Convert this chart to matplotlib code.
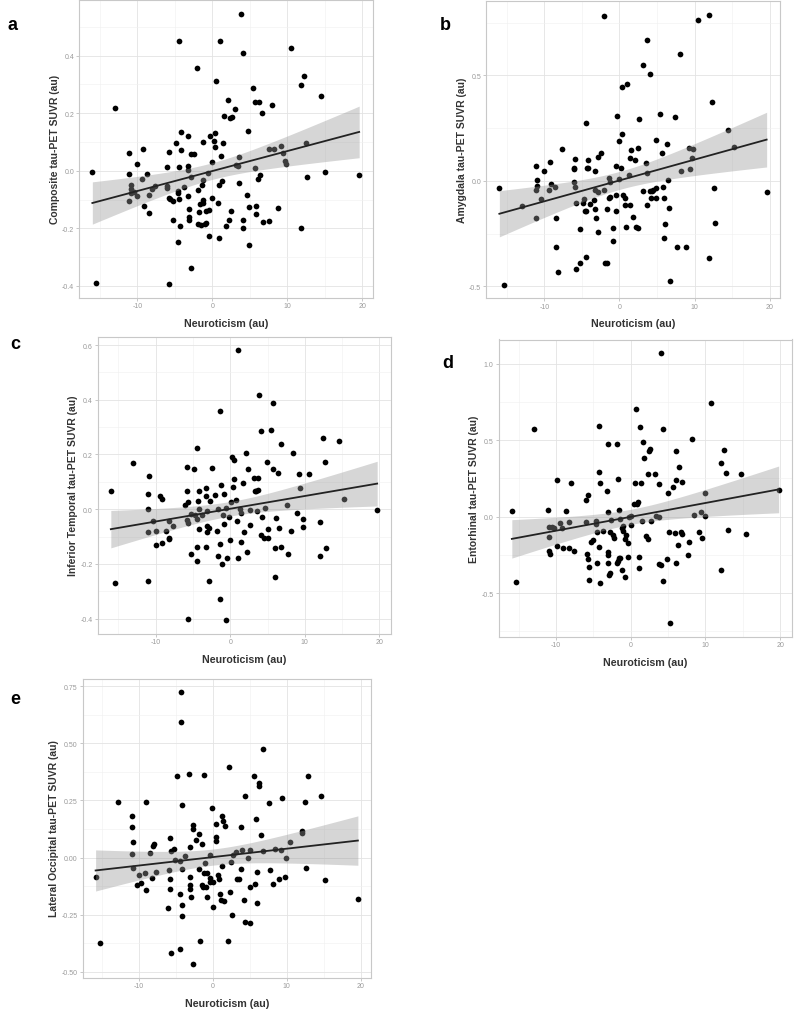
import numpy as np
import matplotlib
matplotlib.use("Agg")
import matplotlib.pyplot as plt
from matplotlib.ticker import MultipleLocator, FixedLocator

plt.rcParams['font.family'] = ['Liberation Sans', 'DejaVu Sans']

# ---- data (Neuroticism vs regional tau-PET SUVR) ----
a_x = [-16.0, -15.5, -13.0, -11.1, -11.1, -10.9, -10.9, -10.8, -11.1, -10.5, -10.0, -10.0, -9.2, -9.4, -9.1,
       -8.7, -8.4, -8.4, -8.1, -7.7, -6.1, -5.8, -6.0, -6.0, -5.8, -5.6, -5.3, -5.3, -5.8, -4.9, -4.5, -4.6,
       -4.6, -4.6, -4.4, -4.2, -4.2, -4.4, -4.3, -3.8, -3.3, -3.3, -3.2, -3.2, -3.1, -3.1, -3.1, -2.9, -2.8,
       -2.8, -2.4, -2.0, -1.9, -1.8, -1.9, -1.6, -1.5, -1.3, -1.4, -1.2, -1.2, -1.3, -1.0, -0.8, -0.8, -0.6,
       -0.5, -0.5, -0.3, 0.0, 0.0, 0.2, 0.3, 0.4, 0.5, 0.8, 0.9, 1.0, 0.9, 1.3, 1.2, 1.4, 1.6, 1.8, 2.1, 2.2,
       2.5, 2.4, 2.6, 3.1, 3.2, 3.4, 3.6, 3.6, 3.8, 4.1, 4.1, 4.1, 4.6, 4.8, 4.9, 4.9, 5.4, 5.7, 5.7, 5.9,
       5.9, 6.2, 6.1, 6.4, 6.6, 6.8, 7.6, 7.6, 8.0, 8.3, 8.8, 9.2, 9.4, 9.7, 9.9, 10.5, 11.9, 11.9, 12.3,
       12.5, 12.7, 14.5, 15.1, 19.6]
a_y = [-0.005, -0.39, 0.218, 0.061, -0.01, -0.05, -0.063, -0.078, -0.104, -0.075, 0.023, -0.088, 0.074,
       -0.027, -0.122, -0.012, -0.085, -0.148, -0.064, -0.052, 0.014, 0.065, -0.052, -0.061, -0.095, -0.099,
       -0.104, -0.171, -0.393, 0.095, 0.013, -0.07, -0.078, -0.246, 0.452, 0.136, 0.072, -0.099, -0.192,
       -0.057, 0.12, 0.016, 0.001, -0.089, -0.134, -0.159, -0.171, -0.339, -0.023, 0.06, 0.058, 0.356,
       -0.065, -0.144, -0.186, -0.117, -0.188, 0.099, -0.048, -0.031, -0.1, -0.112, -0.186, -0.139, -0.182,
       -0.007, -0.135, -0.225, 0.122, -0.096, 0.03, 0.104, 0.132, 0.082, 0.313, -0.112, -0.232, 0.452,
       -0.048, -0.036, 0.051, 0.097, 0.19, -0.193, 0.246, -0.17, -0.14, 0.184, 0.188, 0.214, 0.02, 0.015,
       0.049, -0.044, 0.546, -0.172, -0.197, 0.41, -0.083, 0.137, -0.125, -0.256, 0.288, 0.01, 0.24, -0.121,
       -0.149, 0.238, -0.027, -0.015, 0.202, -0.177, 0.075, -0.174, 0.227, 0.075, -0.13, 0.085, 0.063,
       0.035, 0.022, 0.426, 0.298, -0.197, 0.329, 0.095, -0.02, 0.26, -0.005, -0.016]

b_x = [-16.0, -15.4, -13.0, -11.1, -11.0, -11.0, -11.1, -11.1, -10.4, -10.0, -9.3, -9.4, -9.1, -8.6, -8.4,
       -8.4, -8.2, -7.7, -6.1, -5.9, -6.0, -6.0, -5.9, -5.8, -5.8, -5.3, -5.3, -4.9, -4.7, -4.6, -4.4, -4.5,
       -4.3, -4.2, -4.2, -4.4, -3.9, -3.4, -3.3, -3.2, -3.1, -2.9, -3.2, -2.9, -2.8, -2.4, -2.1, -2.0, -1.9,
       -1.6, -1.7, -1.4, -1.4, -1.3, -1.2, -0.9, -0.8, -0.5, -0.5, -0.4, -0.3, 0.0, 0.0, 0.2, 0.3, 0.4, 0.5,
       0.8, 0.8, 0.9, 1.0, 1.3, 1.4, 1.4, 1.6, 1.8, 2.1, 2.2, 2.4, 2.5, 2.6, 3.1, 3.1, 3.5, 3.6, 3.6, 3.7,
       4.0, 4.1, 4.2, 4.3, 4.5, 4.8, 4.8, 4.9, 5.4, 5.6, 5.8, 5.9, 5.9, 6.1, 6.3, 6.4, 6.6, 6.7, 7.4, 7.6,
       8.0, 8.2, 8.8, 9.2, 9.4, 9.8, 9.7, 10.4, 11.9, 11.9, 12.3, 12.6, 12.7, 14.5, 15.2, 19.6]
b_y = [-0.035, -0.491, -0.119, 0.068, 0.006, -0.024, -0.041, -0.177, -0.088, 0.047, 0.091, -0.042, -0.014,
       -0.027, -0.177, -0.312, -0.432, 0.152, 0.058, 0.102, 0.061, -0.006, -0.027, -0.104, -0.416, -0.391,
       -0.226, -0.104, -0.085, -0.143, -0.143, 0.272, 0.06, 0.097, 0.061, -0.363, -0.108, -0.091, -0.133,
       0.046, -0.177, -0.243, -0.042, -0.052, 0.113, 0.133, -0.044, 0.783, -0.389, -0.389, -0.133, 0.013,
       -0.082, -0.006, -0.075, -0.286, -0.221, 0.072, -0.143, -0.068, 0.305, 0.19, 0.008, 0.06, 0.221, 0.444,
       -0.068, -0.08, -0.113, -0.22, 0.458, 0.027, 0.108, -0.113, 0.148, -0.173, 0.099, -0.217, 0.156, -0.221,
       0.294, 0.551, -0.05, 0.086, 0.039, -0.113, 0.666, 0.507, -0.049, -0.083, -0.047, -0.041, 0.195,
       -0.033, -0.083, 0.316, 0.132, -0.027, -0.082, -0.273, -0.203, 0.173, 0.005, -0.129, -0.473, 0.303,
       -0.314, 0.601, 0.047, -0.311, 0.155, 0.057, 0.151, 0.108, 0.763, 0.788, -0.366, 0.375, -0.035, -0.199,
       0.24, 0.162, -0.052]

c_x = [-16.0, -15.4, -13.0, -10.9, -11.0, -11.0, -11.0, -11.0, -10.4, -9.9, -10.0, -9.4, -9.2, -9.1, -8.6,
       -8.2, -8.2, -8.2, -7.6, -6.1, -5.8, -5.8, -5.7, -5.8, -5.7, -5.7, -5.2, -5.3, -4.8, -4.7, -4.5, -4.5,
       -4.4, -4.3, -4.2, -4.2, -4.2, -4.4, -3.8, -3.3, -3.2, -3.1, -3.1, -3.1, -3.2, -2.9, -2.9, -2.7, -2.4,
       -2.0, -1.7, -1.8, -1.6, -1.4, -1.3, -1.3, -1.2, -1.1, -1.0, -0.8, -0.8, -0.5, -0.5, -0.4, -0.1, 0.0,
       0.1, 0.2, 0.4, 0.5, 0.5, 0.8, 0.9, 1.0, 1.1, 1.3, 1.4, 1.5, 1.7, 1.9, 2.1, 2.3, 2.4, 2.6, 2.6, 3.2,
       3.3, 3.5, 3.7, 3.7, 3.6, 3.8, 4.1, 4.2, 4.1, 4.5, 4.7, 4.9, 5.1, 5.1, 5.5, 5.8, 5.8, 6.0, 6.0, 6.2,
       6.4, 6.5, 6.8, 6.8, 7.6, 7.7, 8.1, 8.4, 8.9, 9.2, 9.4, 9.8, 9.8, 10.6, 12.0, 12.0, 12.4, 12.7, 12.8,
       14.6, 15.2, 19.7]
c_y = [0.068, -0.269, 0.17, 0.121, 0.055, 0.002, -0.082, -0.263, -0.042, -0.079, -0.13, 0.047, 0.038,
       -0.122, -0.08, -0.042, -0.104, -0.11, -0.063, 0.015, 0.068, 0.155, 0.028, -0.039, -0.05, -0.401,
       -0.019, -0.164, 0.147, -0.022, -0.036, -0.19, 0.223, 0.029, 0.065, 0.002, -0.073, -0.139, -0.022,
       0.078, 0.047, -0.007, -0.061, -0.085, -0.138, -0.264, -0.07, 0.029, 0.149, 0.053, 0.0, -0.078, -0.17,
       -0.33, 0.358, -0.126, 0.088, -0.202, -0.022, 0.056, -0.055, 0.005, -0.405, -0.177, -0.028, -0.114,
       0.027, 0.19, 0.081, 0.11, 0.179, 0.032, -0.044, -0.178, 0.582, -0.001, -0.119, -0.015, 0.096, -0.085,
       0.206, -0.158, 0.147, -0.002, -0.059, 0.114, 0.068, 0.068, 0.113, 0.069, -0.005, 0.416, 0.285,
       -0.028, -0.095, -0.104, 0.005, 0.173, -0.073, -0.107, 0.288, 0.388, 0.147, -0.143, -0.247, -0.033,
       0.133, -0.067, 0.238, -0.138, 0.017, -0.164, -0.078, 0.205, -0.013, 0.13, 0.079, -0.036, -0.065,
       0.127, -0.048, -0.17, 0.262, 0.173, -0.141, 0.248, 0.036, -0.004]

d_x = [-15.9, -15.3, -12.9, -11.0, -10.9, -10.9, -10.9, -10.8, -10.5, -10.2, -9.9, -9.9, -9.4, -9.2, -9.0,
       -8.6, -8.3, -8.2, -8.0, -7.6, -6.0, -6.0, -5.7, -5.8, -5.7, -5.6, -5.6, -5.3, -5.1, -4.7, -4.6, -4.5,
       -4.5, -4.2, -4.2, -4.1, -4.2, -4.1, -3.7, -3.1, -3.2, -3.0, -3.0, -3.0, -3.0, -2.9, -2.8, -2.6, -2.7,
       -2.4, -2.2, -1.8, -1.7, -1.8, -1.7, -1.6, -1.5, -1.4, -1.4, -1.2, -1.1, -1.0, -1.0, -0.8, -0.7, -0.6,
       -0.3, -0.4, -0.2, 0.1, 0.1, 0.4, 0.6, 0.7, 0.8, 1.0, 1.1, 1.1, 1.2, 1.4, 1.5, 1.6, 1.8, 2.1, 2.3,
       2.3, 2.5, 2.6, 2.7, 3.3, 3.4, 3.8, 3.8, 3.8, 4.0, 4.1, 4.3, 4.3, 4.8, 5.0, 5.1, 5.2, 5.6, 5.9, 6.0,
       6.1, 6.1, 6.3, 6.5, 6.7, 6.9, 6.9, 7.8, 7.7, 8.2, 8.5, 9.1, 9.4, 9.6, 9.9, 10.0, 10.7, 12.1, 12.1,
       12.5, 12.7, 13.0, 14.8, 15.4, 19.8]
d_y = [0.039, -0.426, 0.576, 0.043, -0.065, -0.135, -0.226, -0.246, -0.067, -0.072, 0.237, -0.193, -0.043,
       -0.072, -0.204, 0.039, -0.033, -0.204, 0.217, -0.226, -0.033, 0.109, 0.143, -0.243, -0.276, -0.33,
       -0.417, -0.167, -0.154, -0.028, -0.05, -0.098, -0.302, 0.591, 0.289, 0.217, -0.196, -0.437, -0.093,
       0.478, 0.17, 0.028, -0.233, -0.254, -0.302, -0.38, -0.367, -0.02, -0.098, -0.12, -0.137, 0.478, 0.248,
       -0.302, -0.291, -0.27, 0.043, -0.017, -0.27, -0.074, -0.35, -0.059, -0.093, -0.146, -0.393, -0.12,
       -0.176, -0.263, -0.002, 0.007, -0.057, 0.083, 0.217, 0.704, 0.085, 0.093, -0.265, -0.339, 0.583,
       0.217, -0.028, 0.485, 0.38, -0.126, -0.146, 0.276, 0.428, 0.441, -0.028, 0.28, 0.007, 0.215, -0.002,
       -0.309, 1.07, -0.317, 0.572, -0.422, -0.28, 0.154, -0.104, -0.696, 0.196, -0.109, 0.43, 0.241, -0.302,
       -0.183, 0.322, -0.098, -0.115, 0.226, -0.163, -0.248, 0.507, 0.011, -0.102, 0.028, -0.141, 0.152,
       0.007, 0.746, 0.348, -0.352, 0.435, 0.287, -0.089, 0.28, -0.111, 0.176]

e_x = [-15.8, -15.2, -12.8, -10.9, -10.9, -10.8, -10.9, -10.7, -10.2, -9.9, -9.7, -9.2, -9.0, -9.0, -8.5,
       -8.2, -8.1, -7.9, -7.6, -6.0, -5.9, -5.7, -5.6, -5.7, -5.7, -5.6, -5.2, -5.1, -4.8, -4.4, -4.4, -4.4,
       -4.3, -4.3, -4.1, -4.1, -4.1, -4.1, -3.8, -3.2, -3.0, -3.0, -3.0, -3.0, -2.9, -2.7, -2.6, -2.7, -2.3,
       -1.9, -1.8, -1.7, -1.5, -1.5, -1.3, -1.2, -1.2, -1.0, -0.9, -0.8, -0.7, -0.4, -0.4, -0.3, -0.1, 0.0,
       0.1, 0.4, 0.4, 0.5, 0.7, 0.9, 1.0, 1.1, 1.2, 1.3, 1.4, 1.5, 1.7, 2.1, 2.2, 2.3, 2.5, 2.6, 2.8, 3.2,
       3.3, 3.6, 3.8, 3.8, 3.9, 4.3, 4.2, 4.3, 4.8, 5.0, 5.0, 5.0, 5.6, 5.7, 5.8, 6.0, 6.0, 6.2, 6.3, 6.5,
       6.8, 6.8, 7.6, 7.7, 8.2, 8.4, 8.9, 9.2, 9.4, 9.8, 9.9, 10.5, 12.0, 12.0, 12.4, 12.6, 12.8, 14.6,
       15.2, 19.6]
e_y = [-0.086, -0.376, 0.245, 0.182, 0.135, 0.07, 0.015, -0.045, -0.122, -0.076, -0.113, -0.066, 0.242,
       -0.142, 0.022, -0.088, 0.05, 0.061, -0.063, -0.221, -0.056, 0.085, 0.028, -0.095, -0.139, -0.419,
       0.037, -0.012, 0.359, -0.015, -0.161, -0.4, 0.725, 0.592, 0.23, -0.05, -0.209, -0.256, 0.009, 0.365,
       0.047, -0.085, -0.122, -0.136, -0.171, 0.141, 0.126, -0.466, 0.076, 0.105, -0.048, -0.366, 0.06,
       -0.122, -0.129, 0.362, -0.067, -0.026, -0.13, -0.066, -0.171, -0.089, 0.013, -0.105, 0.218, -0.105,
       -0.217, 0.088, 0.149, 0.073, -0.078, -0.094, -0.158, -0.187, 0.184, -0.037, 0.16, -0.189, 0.139,
       -0.366, 0.398, -0.149, -0.02, -0.253, 0.013, 0.025, -0.095, -0.092, 0.136, -0.048, 0.032, 0.271,
       -0.186, -0.283, -0.004, 0.031, -0.129, -0.285, 0.356, -0.117, 0.168, -0.063, -0.201, 0.312, 0.326,
       0.101, 0.476, 0.028, 0.239, -0.054, -0.116, 0.038, -0.095, 0.035, 0.262, -0.086, 0.0, 0.07, 0.117,
       0.108, 0.245, -0.047, 0.356, 0.271, -0.1, -0.182]

panel_letters = ["a", "b", "c", "d", "e"]
y_labels = ["Composite tau-PET SUVR (au)", "Amygdala tau-PET SUVR (au)",
            "Inferior Temporal tau-PET SUVR (au)", "Entorhinal tau-PET SUVR (au)",
            "Lateral Occipital tau-PET SUVR (au)"]
y_ticks = [[-0.4, -0.2, 0.0, 0.2, 0.4],
           [-0.5, 0.0, 0.5],
           [-0.4, -0.2, 0.0, 0.2, 0.4, 0.6],
           [-0.5, 0.0, 0.5, 1.0],
           [-0.50, -0.25, 0.00, 0.25, 0.50, 0.75]]
y_fmt = ["%.1f", "%.1f", "%.1f", "%.1f", "%.2f"]
x_ticks = [-10, 0, 10, 20]
xs = [a_x, b_x, c_x, d_x, e_x]
ys = [a_y, b_y, c_y, d_y, e_y]

# axes boxes in pixels (left, top, right, bottom) on an 800x1012 canvas
boxes = [(79, 1, 372.5, 298.5), (486, 2, 780, 299), (97.5, 337.5, 390.5, 634.5),
         (498.5, 340.5, 792, 637.5), (82.5, 679.5, 371, 978.5)]
letter_pos = [(8, 26), (440, 26), (10, 345), (442, 364), (10, 700)]

W, H = 800, 1012
fig = plt.figure(figsize=(W / 100, H / 100), dpi=100)

for i in range(5):
    l, t, r, b = boxes[i]
    ax = fig.add_axes([l / W, 1 - b / H, (r - l) / W, (b - t) / H])
    x = np.array(xs[i])
    y = np.array(ys[i])

    ax.scatter(x, y, s=17, color="black", linewidths=0, zorder=3)

    # linear fit with 95% confidence band (like geom_smooth(method="lm"))
    n = len(x)
    slope, icept = np.polyfit(x, y, 1)
    resid = y - (icept + slope * x)
    s_err = np.sqrt(np.sum(resid ** 2) / (n - 2))
    xg = np.linspace(x.min(), x.max(), 100)
    yg = icept + slope * xg
    se = s_err * np.sqrt(1 / n + (xg - x.mean()) ** 2 / np.sum((x - x.mean()) ** 2))
    tq = 1.979
    ax.fill_between(xg, yg - tq * se, yg + tq * se, color="#999999", alpha=0.4,
                    linewidth=0, zorder=4)
    ax.plot(xg, yg, color="#222222", linewidth=1.3, zorder=5)

    # ggplot-style 5% expansion
    xr = x.max() - x.min()
    yr = y.max() - y.min()
    ax.set_xlim(x.min() - 0.05 * xr, x.max() + 0.05 * xr)
    ax.set_ylim(y.min() - 0.05 * yr, y.max() + 0.05 * yr)

    ax.xaxis.set_major_locator(FixedLocator(x_ticks))
    ax.xaxis.set_minor_locator(MultipleLocator(5))
    ax.set_xticklabels([str(v) for v in x_ticks])
    ax.yaxis.set_major_locator(FixedLocator(y_ticks[i]))
    step = y_ticks[i][1] - y_ticks[i][0]
    ax.yaxis.set_minor_locator(MultipleLocator(step / 2))
    ax.set_yticklabels([y_fmt[i] % v for v in y_ticks[i]])

    ax.grid(which="major", color="#e3e3e3", linewidth=0.6, zorder=0)
    ax.grid(which="minor", color="#f0f0f0", linewidth=0.4, zorder=0)
    ax.set_axisbelow(True)
    for sp in ax.spines.values():
        sp.set_color("#c8c8c8")
        sp.set_linewidth(0.8)
    ax.tick_params(which="major", length=2, width=0.5, color="#b0b0b0",
                   labelsize=5, labelcolor="#9a9a9a", pad=1.5)
    ax.tick_params(which="minor", length=0)

    ax.set_xlabel("Neuroticism (au)", fontsize=7.7, fontweight="bold", color="#333333", labelpad=6)
    ax.set_ylabel(y_labels[i], fontsize=7.5, fontweight="bold", color="#333333", labelpad=1.5)

    lx, ly = letter_pos[i]
    fig.text(lx / W, 1 - ly / H, panel_letters[i], fontsize=13, fontweight="bold",
             va="center", ha="left", color="black")

fig.savefig("out.png", dpi=100)
